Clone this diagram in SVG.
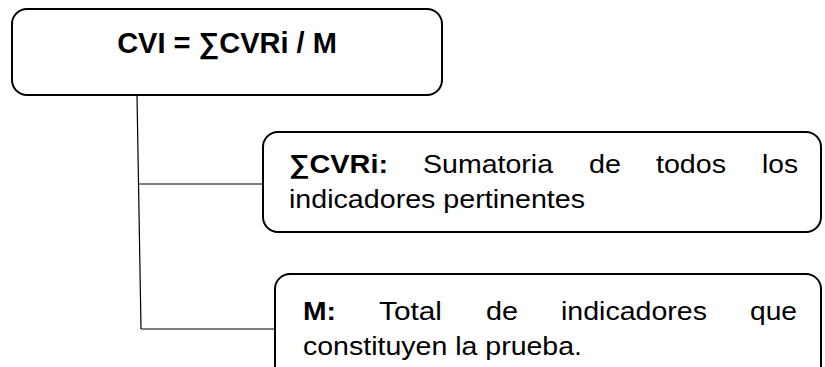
<svg xmlns="http://www.w3.org/2000/svg" width="825" height="367" viewBox="0 0 825 367">
<style>
.box{fill:#fff;stroke:#000;stroke-width:2}
.conn{fill:none;stroke:#000;stroke-width:1.2}
.t{font-family:"Liberation Sans",Arial,sans-serif;font-size:26px;fill:#000}
.b{font-weight:bold}
.title{font-family:"Liberation Sans",Arial,sans-serif;font-size:29px;font-weight:bold;fill:#000}
</style>
<rect width="825" height="367" fill="#fff"/>
<g id="connectors">
<path class="conn" d="M137,95 L141,329"/>
<path class="conn" d="M139,184 L263,184"/>
<path class="conn" d="M141,329 L275,329"/>
</g>
<g id="node-formula">
<rect class="box" x="12" y="9" width="430" height="86" rx="15"/>
<text class="title" x="227" y="53" text-anchor="middle">CVI = ∑CVRi / M</text>
</g>
<g id="node-cvri">
<rect class="box" x="263" y="132" width="558" height="100" rx="15"/>
<text class="t b" x="289" y="173" textLength="99" lengthAdjust="spacingAndGlyphs">∑CVRi:</text>
<text class="t" x="423" y="173" textLength="130" lengthAdjust="spacingAndGlyphs">Sumatoria</text>
<text class="t" x="589" y="173" textLength="32" lengthAdjust="spacingAndGlyphs">de</text>
<text class="t" x="656" y="173" textLength="70" lengthAdjust="spacingAndGlyphs">todos</text>
<text class="t" x="762" y="173" textLength="36" lengthAdjust="spacingAndGlyphs">los</text>
<text class="t" x="289" y="208" textLength="296" lengthAdjust="spacingAndGlyphs">indicadores pertinentes</text>
</g>
<g id="node-m">
<rect class="box" x="275" y="274" width="546" height="110" rx="15"/>
<text class="t b" x="303" y="320" textLength="33" lengthAdjust="spacingAndGlyphs">M:</text>
<text class="t" x="379" y="320" textLength="63" lengthAdjust="spacingAndGlyphs">Total</text>
<text class="t" x="486" y="320" textLength="32" lengthAdjust="spacingAndGlyphs">de</text>
<text class="t" x="561" y="320" textLength="146" lengthAdjust="spacingAndGlyphs">indicadores</text>
<text class="t" x="750" y="320" textLength="47" lengthAdjust="spacingAndGlyphs">que</text>
<text class="t" x="303" y="355" textLength="279" lengthAdjust="spacingAndGlyphs">constituyen la prueba.</text>
</g>
</svg>
